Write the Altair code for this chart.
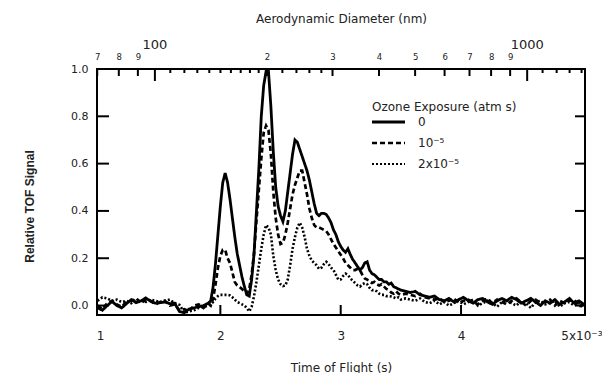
import altair as alt
import pandas as pd

# ---------------- data ----------------
# sampling times (axis unit: x10^-3 s)
time_a = [0.98, 1.02, 1.06, 1.10, 1.14, 1.18, 1.22, 1.26, 1.30, 1.34, 1.38, 1.42,
          1.46, 1.50, 1.54, 1.58, 1.62, 1.66, 1.70, 1.74, 1.78, 1.82, 1.86, 1.90]
time_b = [round(1.92 + 0.02 * i, 2) for i in range(80)]
time_c = [round(3.54 + 0.04 * i, 2) for i in range(38)]
times = time_a + time_b + time_c

sig_0 = [
    # A
    -0.01, -0.02, 0.0, 0.017, 0.0, -0.01, 0.008, 0.025, 0.012, 0.02, 0.032, 0.018,
    0.01, 0.012, 0.015, 0.008, 0.01, -0.025, -0.03, -0.015, -0.01, -0.005, 0.0, 0.01,
    # B
    0.02, 0.08, 0.18, 0.30, 0.42,
    0.52, 0.56, 0.52, 0.45, 0.37, 0.29, 0.22, 0.17, 0.12, 0.08,
    0.045, 0.04, 0.11, 0.22, 0.40, 0.58, 0.80, 0.93, 0.99, 0.99,
    0.84, 0.65, 0.50, 0.42, 0.38, 0.355, 0.40, 0.48, 0.56, 0.64,
    0.70, 0.69, 0.66, 0.63, 0.60, 0.57, 0.53, 0.48, 0.43, 0.39,
    0.38, 0.39, 0.39, 0.385, 0.37, 0.35, 0.32, 0.30, 0.27, 0.25,
    0.235, 0.225, 0.24, 0.215, 0.195, 0.18, 0.165, 0.15, 0.16, 0.18,
    0.185, 0.15, 0.135, 0.13, 0.12, 0.11, 0.11, 0.10, 0.10, 0.09,
    0.095, 0.08, 0.075, 0.07, 0.065,
    # C
    0.06, 0.055, 0.06, 0.045, 0.04, 0.035, 0.04, 0.025, 0.02, 0.03,
    0.015, 0.025, 0.035, 0.02, 0.01, 0.025, 0.03, 0.015, 0.005, 0.02,
    0.03, 0.02, 0.035, 0.025, 0.01, 0.02, 0.03, 0.015, 0.0, 0.02,
    0.01, 0.025, 0.005, 0.015, 0.03, 0.01, 0.02, 0.005,
]
sig_1 = [
    # A
    0.0, -0.015, 0.01, 0.02, 0.005, -0.005, 0.015, 0.02, 0.03, 0.01, 0.025, 0.02,
    0.005, 0.015, 0.02, 0.0, 0.005, -0.02, -0.015, -0.025, 0.0, 0.005, -0.01, 0.01,
    # B
    0.0, 0.03, 0.09, 0.16, 0.21,
    0.235, 0.235, 0.20, 0.18, 0.14, 0.10, 0.085, 0.078, 0.07, 0.06,
    0.05, 0.07, 0.13, 0.22, 0.36, 0.49, 0.62, 0.73, 0.76, 0.74,
    0.64, 0.48, 0.37, 0.30, 0.26, 0.265, 0.30, 0.35, 0.41, 0.47,
    0.51, 0.54, 0.57, 0.57, 0.52, 0.47, 0.41, 0.37, 0.34, 0.33,
    0.33, 0.325, 0.32, 0.315, 0.30, 0.28, 0.26, 0.245, 0.23, 0.215,
    0.20, 0.18, 0.17, 0.16, 0.15, 0.15, 0.155, 0.15, 0.13, 0.115,
    0.11, 0.10, 0.095, 0.10, 0.09, 0.085, 0.09, 0.08, 0.07, 0.065,
    0.055, 0.05, 0.06, 0.05, 0.045,
    # C
    0.05, 0.045, 0.04, 0.05, 0.035, 0.03, 0.025, 0.03, 0.015, 0.02,
    0.03, 0.01, 0.02, 0.025, 0.015, 0.005, 0.02, 0.03, 0.01, 0.025,
    0.015, 0.005, 0.02, 0.03, 0.015, 0.0, 0.02, 0.025, 0.01, 0.015,
    0.025, 0.0, 0.02, 0.01, 0.02, 0.025, -0.005, 0.01,
]
sig_2 = [
    # A
    0.02, 0.035, 0.03, 0.02, 0.025, 0.015, 0.02, 0.01, 0.025, 0.02, 0.015, 0.025,
    0.02, 0.015, 0.02, 0.025, 0.01, 0.003, -0.03, -0.025, -0.02, -0.01, -0.005, 0.0,
    # B
    0.005, 0.015, 0.03, 0.04, 0.045,
    0.045, 0.045, 0.045, 0.043, 0.035, 0.025, 0.015, 0.01, 0.005, 0.0,
    -0.01, -0.025, -0.005, 0.04, 0.10, 0.17, 0.24, 0.30, 0.34, 0.33,
    0.30, 0.21, 0.15, 0.11, 0.09, 0.082, 0.085, 0.11, 0.17, 0.24,
    0.29, 0.33, 0.35, 0.33, 0.29, 0.24, 0.21, 0.19, 0.18, 0.17,
    0.155, 0.16, 0.175, 0.185, 0.175, 0.16, 0.15, 0.13, 0.11, 0.11,
    0.125, 0.135, 0.13, 0.115, 0.105, 0.095, 0.085, 0.08, 0.09, 0.095,
    0.09, 0.075, 0.065, 0.065, 0.06, 0.05, 0.045, 0.045, 0.04, 0.04,
    0.038, 0.035, 0.03, 0.035, 0.025,
    # C
    0.03, 0.025, 0.02, 0.03, 0.015, 0.01, 0.02, 0.005, 0.015, 0.0,
    0.01, 0.02, 0.005, 0.015, 0.025, 0.0, 0.01, 0.02, 0.01, -0.005,
    0.015, 0.025, 0.01, 0.0, 0.02, 0.01, -0.01, 0.015, 0.02, 0.005,
    0.01, 0.02, -0.005, 0.01, 0.015, 0.0, 0.01, -0.01,
]

series_names = ["0", "10\u207b\u2075", "2x10\u207b\u2075"]
legend_title = "Ozone Exposure (atm s)"

y_tick_values = [0.0, 0.2, 0.4, 0.6, 0.8, 1.0]
x_tick_values = [1, 2, 3, 4, 5]
x_inner_ticks = [2, 3, 4]

diam_major = [100, 1000]
diam_labeled = [70, 80, 90, 200, 300, 400, 500, 600, 700, 800, 900]
diam_minor = [110, 120, 130, 140, 150, 160, 170, 180, 190, 220, 240, 260, 280,
              1100, 1200, 1300, 1400]

# ---------------- tables ----------------
rows = []
for name, sig in zip(series_names, [sig_0, sig_1, sig_2]):
    assert len(sig) == len(times), (name, len(sig), len(times))
    for t, v in zip(times, sig):
        rows.append({"t": t, "signal": v, "exposure": name})
df = pd.DataFrame(rows)

W, H = 488, 246
FONT = "DejaVu Sans"
TXT = "#222222"
DASHES = [[1, 0], [5, 3], [2, 2]]
WIDTHS = [2.8, 2.6, 2.2]

x_scale = alt.Scale(domain=[0.975, 5.03], nice=False, zero=False)
y_scale = alt.Scale(domain=[-0.04, 1.0], nice=False, zero=False)
d_scale = alt.Scale(type="log", domain=[69.9, 1430], nice=False)

dash_scale = alt.Scale(domain=series_names, range=DASHES)
width_scale = alt.Scale(domain=series_names, range=WIDTHS)

x_axis = alt.Axis(values=x_tick_values, ticks=False, domain=False, grid=False, labelFlush=False,
                  labelExpr="datum.value == 5 ? '5x10\u207b\u00b3' : format(datum.value, 'd')",
                  labelFont=FONT, labelFontSize=12, labelColor=TXT, labelPadding=15,
                  title="Time of Flight (s)", titleFont=FONT, titleFontSize=12,
                  titleFontWeight="normal", titleColor=TXT,
                  titleY=56, titleBaseline="alphabetic")
y_axis = alt.Axis(values=y_tick_values, format=".1f", ticks=False, domain=False, grid=False,
                  labelFlush=False,
                  labelFont=FONT, labelFontSize=11, labelColor=TXT, labelPadding=9,
                  title="Relative TOF Signal", titleFont="Liberation Sans",
                  titleFontSize=12, titleFontWeight="bold", titleColor=TXT,
                  titleAngle=270, titleX=-64, titleY=137,
                  titleBaseline="alphabetic", titleAlign="center")

lines = alt.Chart(df).mark_line(color="black", clip=True).encode(
    x=alt.X("t:Q", scale=x_scale, axis=x_axis),
    y=alt.Y("signal:Q", scale=y_scale, axis=y_axis),
    strokeDash=alt.StrokeDash("exposure:N", scale=dash_scale, legend=None),
    strokeWidth=alt.StrokeWidth("exposure:N", scale=width_scale, legend=None),
    order=alt.Order("t:Q"),
)

ydf = pd.DataFrame({"v": y_tick_values})
left_ticks = alt.Chart(ydf).mark_rule(color="black", strokeWidth=2).encode(
    y=alt.Y("v:Q", scale=y_scale, axis=y_axis), x=alt.value(0), x2=alt.value(12))
right_ticks = alt.Chart(ydf).mark_rule(color="black", strokeWidth=2).encode(
    y=alt.Y("v:Q", scale=y_scale, axis=y_axis), x=alt.value(W - 10), x2=alt.value(W))
xdf = pd.DataFrame({"t": x_inner_ticks})
bottom_ticks = alt.Chart(xdf).mark_rule(color="black", strokeWidth=2).encode(
    x=alt.X("t:Q", scale=x_scale, axis=x_axis), y=alt.value(H), y2=alt.value(H - 10))

# legend (drawn by hand, in the plot's upper right)
leg_x0, leg_x1, leg_lab = 275, 308, 321
leg_rows = [53, 74, 95]
legend_layers = [
    alt.Chart(pd.DataFrame({"title": [legend_title]})).mark_text(
        align="left", baseline="middle", font=FONT, fontSize=12, color=TXT
    ).encode(text="title:N", x=alt.value(leg_x0), y=alt.value(38))
]
for name, yy, dash, sw in zip(series_names, leg_rows, DASHES, WIDTHS):
    one = pd.DataFrame({"exposure": [name]})
    legend_layers.append(
        alt.Chart(one).mark_rule(color="black", strokeWidth=sw, strokeDash=dash).encode(
            x=alt.value(leg_x0), x2=alt.value(leg_x1), y=alt.value(yy)))
    legend_layers.append(
        alt.Chart(one).mark_text(align="left", baseline="middle", font=FONT,
                                 fontSize=12, color=TXT).encode(
            text="exposure:N", x=alt.value(leg_lab), y=alt.value(yy)))

bottom_group = alt.layer(lines, left_ticks, right_ticks, bottom_ticks, *legend_layers)

# top axis: aerodynamic diameter (log)
top_axis = alt.Axis(orient="top", values=diam_labeled, ticks=False, domain=False, grid=False,
                    labelFlush=False, labelOverlap=False, labelBound=False,
                    labelExpr="substring(toString(datum.value), 0, 1)",
                    labelFont=FONT, labelFontSize=8.5, labelColor=TXT, labelPadding=8,
                    title="Aerodynamic Diameter (nm)", titleFont=FONT, titleFontSize=12,
                    titleFontWeight="normal", titleColor=TXT,
                    titleY=-47, titleBaseline="alphabetic")
top_med = alt.Chart(pd.DataFrame({"d": diam_labeled})).mark_rule(color="black", strokeWidth=2).encode(
    x=alt.X("d:Q", scale=d_scale, axis=top_axis), y=alt.value(0), y2=alt.value(7))
top_major = alt.Chart(pd.DataFrame({"d": diam_major})).mark_rule(color="black", strokeWidth=2).encode(
    x=alt.X("d:Q", scale=d_scale, axis=top_axis), y=alt.value(0), y2=alt.value(12))
top_minor = alt.Chart(pd.DataFrame({"d": diam_minor})).mark_rule(color="black", strokeWidth=2).encode(
    x=alt.X("d:Q", scale=d_scale, axis=top_axis), y=alt.value(0), y2=alt.value(4))
top_big_labels = alt.Chart(pd.DataFrame({"d": diam_major, "lab": ["100", "1000"]})).mark_text(
    baseline="middle", align="center", font=FONT, fontSize=13, color=TXT
).encode(x=alt.X("d:Q", scale=d_scale, axis=top_axis), y=alt.value(-24), text="lab:N")

top_group = alt.layer(top_med, top_major, top_minor, top_big_labels)

chart = alt.layer(bottom_group, top_group).resolve_scale(x="independent").properties(
    width=W, height=H,
    autosize=alt.AutoSizeParams(type="none"),
    padding={"left": 97, "top": 69, "right": 17, "bottom": 58},
    background="white",
).configure_view(stroke="black", strokeWidth=2)

chart.save("out.html", embed_options={"renderer": "svg", "actions": False})
